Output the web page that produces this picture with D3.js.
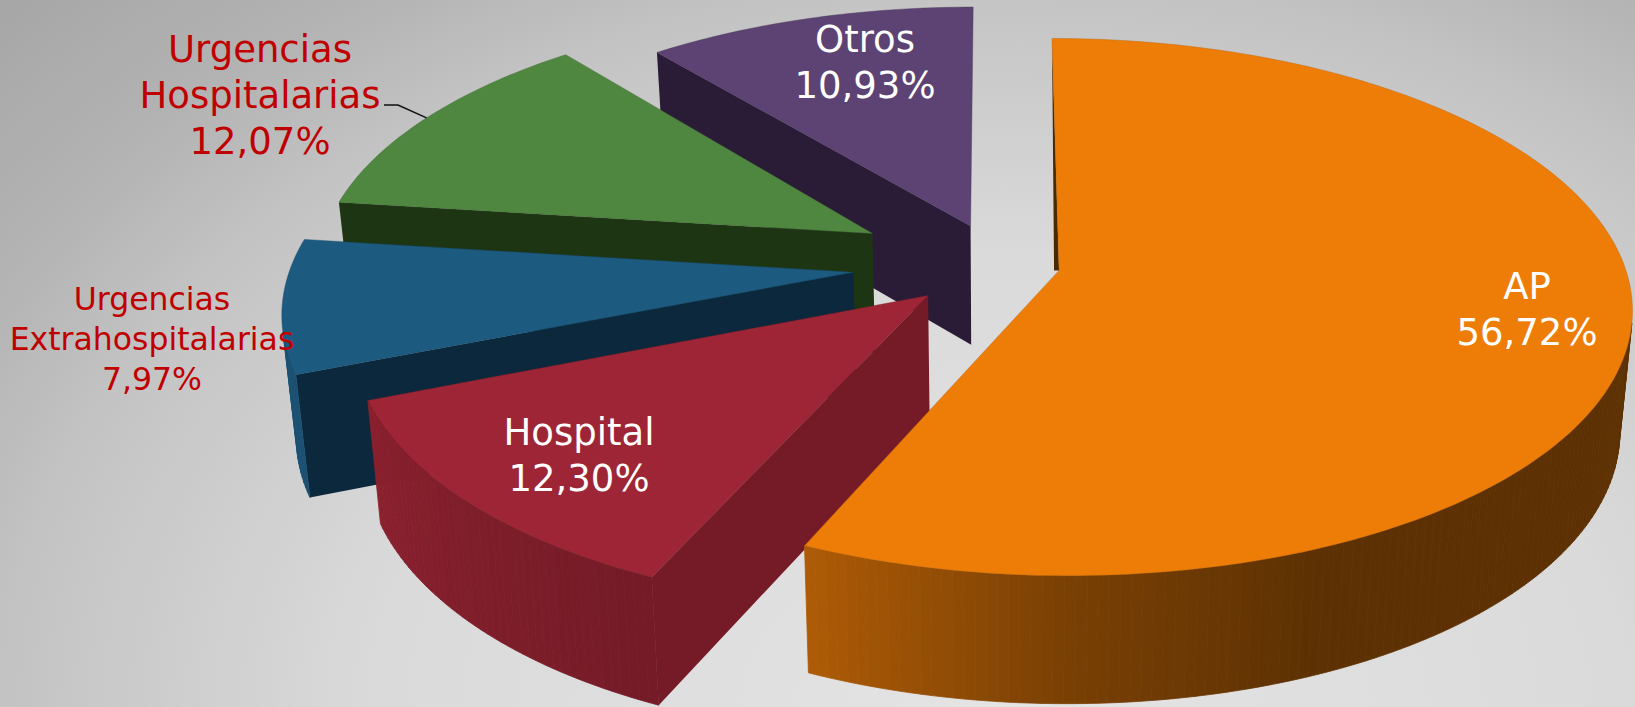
<!DOCTYPE html>
<html><head><meta charset="utf-8">
<script src="https://cdn.jsdelivr.net/npm/d3@7"></script>
<style>html,body{margin:0;padding:0;overflow:hidden;background:#ccc}svg{display:block}text{font-family:"DejaVu Sans",Verdana,sans-serif}</style>
</head><body><svg id="c" width="1635" height="707"></svg>
<script>
// DATA
const categories=["AP","Hospital","Urgencias Extrahospitalarias","Urgencias Hospitalarias","Otros"];
const values=[56.72,12.30,7.97,12.07,10.93];
const valueLabels=["56,72%","12,30%","7,97%","12,07%","10,93%"];
const topColors=["#ee7d08","#9e2535","#1d5a80","#4f8740","#5c4374"];
const radialWallColors=["#4a2800","#751a27","#0b283c","#1e3514","#2a1c36"];
const explode=[0.115,0.17,0.25,0.25,0.13];
const fitX=[0.995,0.982,0.99,0.979,0.975];
const fitY=[0.99,1,1,0.985,0.96];
const shiftV=[0.011,0,0,0.004,-0.024];
const apexU=[0,0.007,0,0,0];
const apexV=[-0.011,0,0,0,0];

// projection
const W=1635,H=707,Xo=995,Yo=264,A=568,B=264.7,P=0.1263;
const svg=d3.select("#c");
const defs=svg.append("defs");
const bg=defs.append("radialGradient").attr("id","bg").attr("gradientUnits","userSpaceOnUse")
 .attr("cx",0).attr("cy",0).attr("r",1400).attr("gradientTransform","translate(1000,720) scale(1,0.74)");
[[0,"#e4e4e4"],[0.45,"#dadada"],[0.7,"#c4c4c4"],[0.83,"#b3b3b3"],[1,"#a6a6a6"]].forEach(([o,c])=>
  bg.append("stop").attr("offset",o).attr("stop-color",c));
svg.append("rect").attr("width",W).attr("height",H).attr("fill","url(#bg)");

function proj(u,v,low){
  const s=1/(1-P*v);
  let X=Xo+A*u*s,Y=Yo+B*v*s;
  if(low){const h=113+0.026*Y;X+=(1000-X)*0.02;Y+=h;}
  return [X,Y];
}
const pie=d3.pie().value(d=>d).sort(null);
const arcs=pie(values);
const shade=d3.scaleLinear().domain([157,180,204,248,290]).range([0.39,0.51,0.73,0.88,0.92]).clamp(true);
const step=Math.PI/180;
const lineGen=d3.line();
const area2=a=>lineGen(a)+"Z";

function sliceGeom(a,i){
  const mid=(a.startAngle+a.endAngle)/2,e=explode[i];
  const ox=e*Math.sin(mid),oy=-e*Math.cos(mid)+shiftV[i];
  const pt=(th,r,low)=> r===0
    ? proj(ox+apexU[i],oy+apexV[i],low)
    : proj(ox+r*fitX[i]*Math.sin(th),oy-r*fitY[i]*Math.cos(th),low);
  return {pt};
}
const order=[4,3,2,1,0];
order.forEach(i=>{
  const a=arcs[i],{pt}=sliceGeom(a,i),g=svg.append("g");
  // radial walls (front-facing and not edge-on)
  [a.startAngle,a.endAngle].forEach((th,k)=>{
    const poly=[pt(th,0),pt(th,1),pt(th,1,true),pt(th,0,true)];
    const area=d3.polygonArea(poly)*(k===0?1:-1);
    if(area>1500) g.append("path").attr("d",area2(poly)).attr("fill",radialWallColors[i]);
  });
  // outer rim strips
  const n=Math.max(2,Math.ceil((a.endAngle-a.startAngle)/step));
  const ts=d3.range(n+1).map(k=>a.startAngle+(a.endAngle-a.startAngle)*k/n);
  d3.pairs(ts).forEach(([t0,t1])=>{
    const poly=[pt(t0,1),pt(t1,1),pt(t1,1,true),pt(t0,1,true)];
    if(d3.polygonArea(poly)<0) return;
    const c=d3.rgb(topColors[i]),f=shade(((t0+t1)/2)*180/Math.PI);
    const col=d3.rgb(c.r*f,c.g*f,c.b*f)+"";
    g.append("path").attr("d",area2(poly)).attr("fill",col).attr("stroke",col).attr("stroke-width",0.8);
  });
  // thin wall seen beside the start edge of the largest slice
  if(i===0){
    const ap=pt(a.startAngle,0),rm=pt(a.startAngle,1);
    g.append("path").attr("d",area2([rm,ap,[ap[0]-5,ap[1]]])).attr("fill",radialWallColors[0]);
  }
  // top
  const top=[pt(0,0)];
  const m=Math.ceil((a.endAngle-a.startAngle)/(Math.PI/180));
  d3.range(m+1).forEach(k=>top.push(pt(a.startAngle+(a.endAngle-a.startAngle)*k/m,1)));
  g.append("path").attr("d",area2(top)).attr("fill",topColors[i])
   .attr("stroke",d3.color(topColors[i]).darker(0.7)).attr("stroke-opacity",0.4).attr("stroke-width",1);
});

// labels
const labelSpec=[
 {lines:["AP"],x:1527,y:299,fs:37,c:"#fff"},
 {lines:["Hospital"],x:579,y:445,fs:37,c:"#fff"},
 {lines:["Urgencias","Extrahospitalarias"],x:152,y:310,fs:31.5,lh:40,c:"#c00000"},
 {lines:["Urgencias","Hospitalarias"],x:260,y:62,fs:37,lh:46,c:"#c00000"},
 {lines:["Otros"],x:865,y:52,fs:37,c:"#fff"}
];
labelSpec.forEach((l,i)=>{
  const lh=l.lh||46;
  const t=svg.append("text").attr("text-anchor","middle").attr("fill",l.c).attr("font-size",l.fs);
  l.lines.concat([valueLabels[i]]).forEach((s,k)=>t.append("tspan").attr("x",l.x).attr("y",l.y+k*lh).text(s));
});
// leader line
const gi=3,ga=arcs[gi],gp=sliceGeom(ga,gi).pt(ga.startAngle+(ga.endAngle-ga.startAngle)*0.5,1);
svg.append("path").attr("d",lineGen([[384,105],[398,105],gp])).attr("fill","none").attr("stroke","#111").attr("stroke-width",1.5);
</script></body></html>
